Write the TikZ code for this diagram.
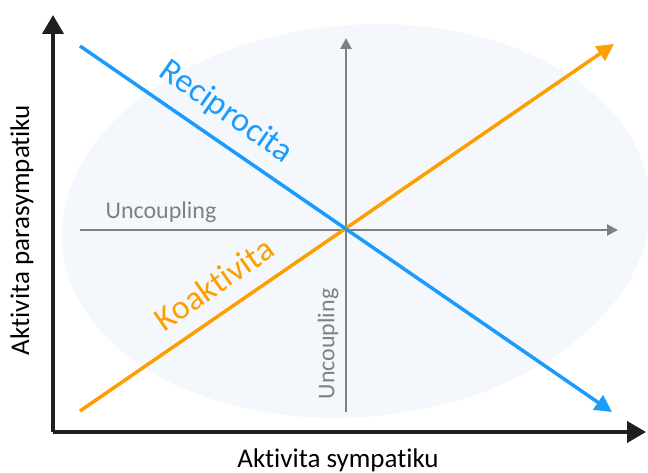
\documentclass[tikz,border=0pt]{standalone}
\usepackage{fontspec}
\setmainfont{Carlito}[Ligatures={NoCommon}]
\usepackage{tikz}
\usetikzlibrary{arrows.meta}
\definecolor{recipblue}{HTML}{1B9CFC}
\definecolor{koakorange}{HTML}{FF9E00}
\definecolor{fieldblue}{HTML}{F4F8FD}
\definecolor{uncgray}{HTML}{808080}
\tikzset{
  axis/.style={line width=4pt, draw=black!88, -{Triangle[length=19pt,width=21pt]}},
  recip/.style={line width=3.5pt, draw=recipblue, -{Triangle[length=17pt,width=17pt]}},
  koak/.style={line width=3.5pt, draw=koakorange, -{Triangle[length=17pt,width=17pt]}},
  uncoup/.style={line width=2.5pt, draw=uncgray, -{Triangle[length=11pt,width=11pt]}},
  axlbl/.style={font=\fontsize{27}{30}\selectfont, text=black, inner sep=0pt},
  unclbl/.style={font=\fontsize{24}{27}\selectfont, text=uncgray, inner sep=0pt},
  linelbl/.style={font=\fontsize{34}{38}\selectfont, inner sep=0pt}
}

\begin{document}
\begin{tikzpicture}[x=1pt, y=1pt]
\useasboundingbox (0,0) rectangle (648,473);
\begin{scope}
  \clip (0,0) rectangle (648,473);
  \fill[fieldblue, rotate around={5:(356,252)}] (356,252) ellipse [x radius=295, y radius=196];
\end{scope}
% end points
\coordinate (O) at (53,41);
\coordinate (ytop) at (53,458);
\coordinate (xend) at (646,41);
\coordinate (r0) at (80,427);  \coordinate (r1) at (612,61);
\coordinate (k0) at (80,62);   \coordinate (k1) at (614,429);
\coordinate (h0) at (80,243);  \coordinate (h1) at (618,243);
\coordinate (v0) at (346,61);  \coordinate (v1) at (346,435);
% lines
\draw[uncoup] (h0) -- (h1);
\draw[uncoup] (v0) -- (v1);
\draw[koak] (k0) -- (k1);
\draw[recip] (r0) -- (r1);
\draw[axis] (O) -- (ytop);
\draw[axis] (O) -- (xend);
% labels
\node[axlbl] (xlab) at (338,13) {Aktivita sympatiku};
\node[axlbl, rotate=90] (ylab) at (22,243) {Aktivita parasympatiku};
\node[unclbl] (hlab) at (161,261) {Uncoupling};
\node[unclbl, rotate=90] (vlab) at (328,129) {Uncoupling};
\node[linelbl, text=recipblue, rotate=-35] (rlab) at (226,361) {Reciprocita};
\node[linelbl, text=koakorange, rotate=35] (klab) at (214,189) {Koakt\kern0pt ivita};
\end{tikzpicture}
\end{document}
